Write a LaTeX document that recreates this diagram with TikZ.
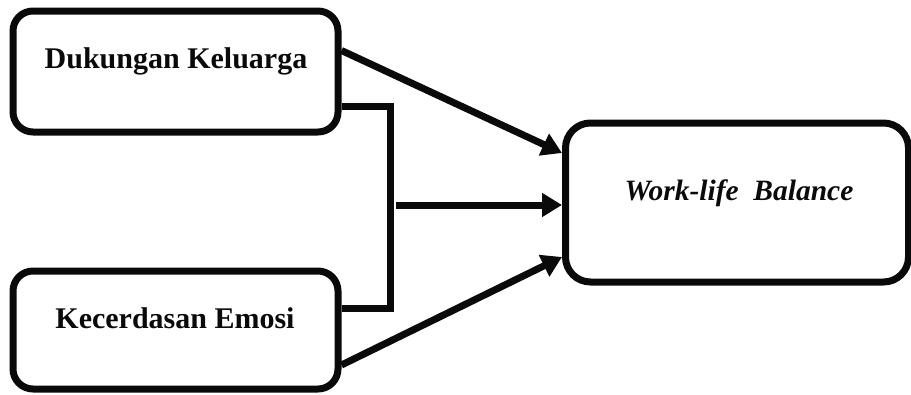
\documentclass[tikz,border=0pt]{standalone}
\usepackage{fontspec}
\setmainfont{Liberation Serif}
\usetikzlibrary{arrows.meta}
\definecolor{modelink}{HTML}{0A0A0A}

\begin{document}
\begin{tikzpicture}[x=1pt, y=-1pt, >={Triangle[length=20pt, width=23pt]},
                    every node/.style={modelink},
                    varbox/.style={draw=modelink, line width=7pt, rounded corners=20pt,
                                   inner sep=0pt},
                    varlabel/.style={anchor=base, font=\bfseries\fontsize{30}{34}\selectfont},
                    link/.style={draw=modelink, line width=7pt}]

  \useasboundingbox (0,0) rectangle (911,394);

  %% ---- kiri: dua variabel bebas ----
  \node[varbox, minimum width=325pt, minimum height=121pt] (dukungan) at (175.5,71.5) {};
  \node[varlabel] (dukunganlbl) at (176,68) {Dukungan Keluarga};

  \node[varbox, minimum width=325pt, minimum height=118pt] (emosi) at (175.5,330) {};
  \node[varlabel] (emosilbl) at (175,328) {Kecerdasan Emosi};

  %% ---- kanan: variabel terikat ----
  \node[varbox, rounded corners=25pt, minimum width=343pt, minimum height=159pt] (wlb) at (737,202.5) {};
  \node[anchor=base, font=\bfseries\itshape\fontsize{29.5}{34}\selectfont] (wlblbl) at (739,200)
    {Work-life\ \ Balance};

  %% ---- kurung yang menggabungkan kedua variabel ----
  \draw[link] ([yshift=-34.5pt]dukungan.east) -- ++(49,0) coordinate (bracket)
    |- ([yshift=22pt]emosi.east);
  \coordinate (simultan) at (396,205);

  %% ---- panah ----
  \draw[link, ->] ([yshift=21pt]dukungan.east) -- ([yshift=49.5pt]wlb.west);
  \draw[link, ->] (simultan) -- ([yshift=-2.5pt]wlb.west);
  \draw[link, ->] ([yshift=-35pt]emosi.east) -- ([yshift=-54.5pt]wlb.west);

\end{tikzpicture}
\end{document}
